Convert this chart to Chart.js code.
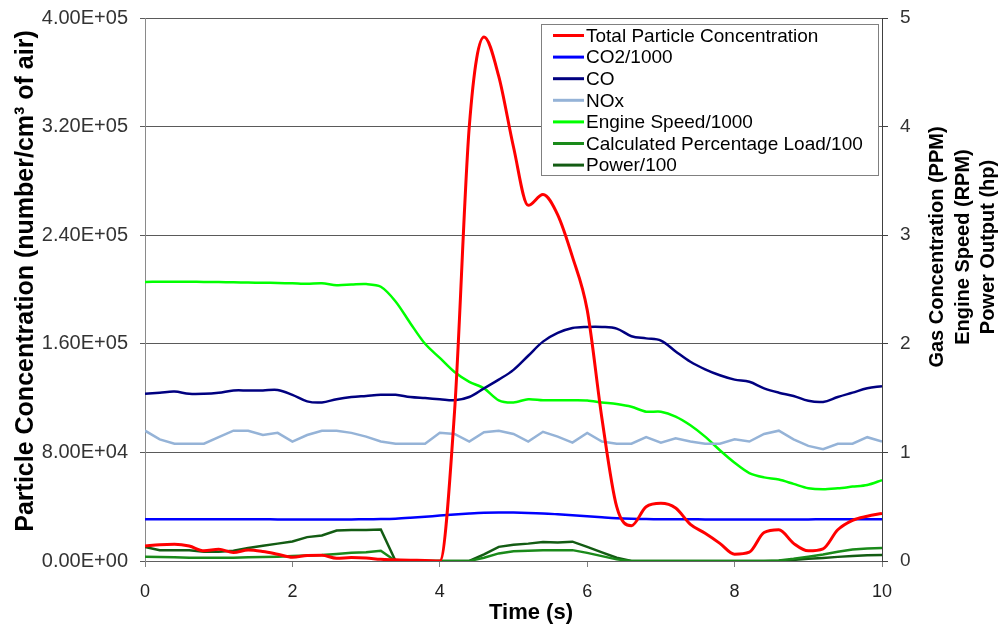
<!DOCTYPE html>
<html>
<head>
<meta charset="utf-8">
<script src="https://cdn.jsdelivr.net/npm/chart.js@4/dist/chart.umd.min.js"></script>
<style>
  html, body { margin: 0; padding: 0; background: #ffffff; }
  #wrap { width: 1007px; height: 627px; }
</style>
</head>
<body>
<div id="wrap"><canvas id="c" width="1007" height="627"></canvas></div>
<script>
// Sample times (s), one reading every 0.2 s
const times = [0, 0.2, 0.4, 0.6, 0.8, 1.0, 1.2, 1.4, 1.6, 1.8,
  2.0, 2.2, 2.4, 2.6, 2.8, 3.0, 3.2, 3.4, 3.6, 3.8,
  4.0, 4.2, 4.4, 4.6, 4.8, 5.0, 5.2, 5.4, 5.6, 5.8,
  6.0, 6.2, 6.4, 6.6, 6.8, 7.0, 7.2, 7.4, 7.6, 7.8,
  8.0, 8.2, 8.4, 8.6, 8.8, 9.0, 9.2, 9.4, 9.6, 9.8, 10.0];

// Total particle concentration (number/cm3 of air), left axis
const particles = [11100, 12000, 12300, 11000, 7500, 8600, 6300, 8100, 7000, 5000,
  2800, 4000, 4300, 2000, 2500, 2200, 1200, 900, 600, 400,
  0, 110000, 320000, 386000, 357000, 305000, 262000, 270000, 255000, 224000,
  185000, 105000, 40000, 26000, 40000, 42500, 39000, 27000, 20400, 13000,
  5000, 6500, 21000, 23000, 13000, 7500, 9000, 23000, 30000, 33000, 35000];

// Right axis series
const co2 = [0.385, 0.385, 0.385, 0.385, 0.385, 0.384, 0.384, 0.384, 0.384, 0.383,
  0.383, 0.383, 0.383, 0.383, 0.383, 0.384, 0.386, 0.390, 0.398, 0.408,
  0.418, 0.428, 0.437, 0.444, 0.447, 0.446, 0.443, 0.438, 0.430, 0.421,
  0.411, 0.402, 0.394, 0.389, 0.386, 0.385, 0.384, 0.384, 0.383, 0.383,
  0.383, 0.383, 0.383, 0.383, 0.383, 0.383, 0.384, 0.384, 0.384, 0.384, 0.384];

const co = [1.54, 1.55, 1.56, 1.54, 1.54, 1.55, 1.57, 1.57, 1.57, 1.575,
  1.53, 1.47, 1.46, 1.49, 1.51, 1.52, 1.53, 1.53, 1.51, 1.50,
  1.49, 1.48, 1.51, 1.59, 1.67, 1.76, 1.89, 2.02, 2.10, 2.145,
  2.155, 2.155, 2.14, 2.07, 2.05, 2.03, 1.93, 1.835, 1.765, 1.71,
  1.67, 1.65, 1.59, 1.55, 1.52, 1.475, 1.465, 1.51, 1.55, 1.59, 1.61];

const nox = [1.20, 1.12, 1.08, 1.08, 1.08, 1.14, 1.20, 1.20, 1.16, 1.18,
  1.10, 1.16, 1.20, 1.20, 1.18, 1.145, 1.10, 1.08, 1.08, 1.08,
  1.18, 1.17, 1.10, 1.185, 1.20, 1.17, 1.10, 1.19, 1.145, 1.09,
  1.18, 1.10, 1.08, 1.08, 1.14, 1.09, 1.13, 1.10, 1.08, 1.08,
  1.12, 1.10, 1.17, 1.20, 1.12, 1.06, 1.03, 1.08, 1.08, 1.14, 1.10];

const engineSpeed = [2.57, 2.572, 2.572, 2.572, 2.57, 2.568, 2.566, 2.564, 2.562, 2.56,
  2.557, 2.552, 2.557, 2.54, 2.545, 2.55, 2.525, 2.39, 2.19, 2.00,
  1.87, 1.74, 1.65, 1.59, 1.48, 1.46, 1.49, 1.48, 1.48, 1.48,
  1.478, 1.46, 1.445, 1.42, 1.375, 1.375, 1.33, 1.25, 1.145, 1.02,
  0.905, 0.81, 0.77, 0.75, 0.71, 0.67, 0.66, 0.67, 0.685, 0.70, 0.745];

const load = [0.04, 0.037, 0.035, 0.03, 0.03, 0.03, 0.03, 0.035, 0.037, 0.04,
  0.045, 0.05, 0.055, 0.065, 0.075, 0.08, 0.095, 0, 0, 0,
  0, 0, 0, 0.03, 0.07, 0.09, 0.095, 0.10, 0.10, 0.10,
  0.075, 0.045, 0.015, 0, 0, 0, 0, 0, 0, 0,
  0, 0, 0, 0.005, 0.02, 0.04, 0.06, 0.085, 0.105, 0.115, 0.12];

const power = [0.13, 0.10, 0.10, 0.10, 0.085, 0.085, 0.095, 0.12, 0.14, 0.16,
  0.18, 0.22, 0.235, 0.28, 0.285, 0.285, 0.29, 0, 0, 0,
  0, 0, 0, 0.06, 0.13, 0.15, 0.16, 0.175, 0.17, 0.178,
  0.13, 0.08, 0.03, 0, 0, 0, 0, 0, 0, 0,
  0, 0, 0, 0.003, 0.01, 0.02, 0.028, 0.038, 0.047, 0.052, 0.055];

const seriesNames = ['Total Particle Concentration', 'CO2/1000', 'CO', 'NOx',
  'Engine Speed/1000', 'Calculated Percentage Load/100', 'Power/100'];

const leftTicks = [0, 80000, 160000, 240000, 320000, 400000];

const FONT = '"Liberation Sans", Arial, sans-serif';

function pts(values) {
  return times.map((t, i) => ({ x: t, y: values[i] }));
}

function sciLabel(v) {
  if (v === 0) return '0.00E+00';
  const e = Math.floor(Math.log10(v) + 1e-9);
  const m = v / Math.pow(10, e);
  return m.toFixed(2) + 'E+' + String(e).padStart(2, '0');
}

// Vertical axes keep a fixed width and do not push the plot area down
function fixedVertical(width) {
  return function (s) {
    s.width = width;
    s.paddingTop = 0;
    s.paddingBottom = 0;
  };
}

// Axis titles and the boxed legend
const decorations = {
  id: 'decorations',
  afterDatasetsDraw(chart) {
    const ctx = chart.ctx;
    ctx.save();
    ctx.fillStyle = '#000000';
    ctx.textAlign = 'center';
    ctx.textBaseline = 'middle';

    ctx.font = 'bold 25px ' + FONT;
    ctx.save();
    ctx.translate(26, 281);
    ctx.rotate(-Math.PI / 2);
    ctx.fillText('Particle Concentration (number/cm\u00B3 of air)', 0, 0);
    ctx.restore();

    ctx.font = 'bold 20px ' + FONT;
    const rightLines = ['Gas Concentration (PPM)', 'Engine Speed (RPM)', 'Power Output (hp)'];
    const rx = [937, 963, 988];
    rightLines.forEach((s, i) => {
      ctx.save();
      ctx.translate(rx[i], 247);
      ctx.rotate(-Math.PI / 2);
      ctx.fillText(s, 0, 0);
      ctx.restore();
    });

    ctx.font = 'bold 22px ' + FONT;
    ctx.fillText('Time (s)', 531, 613);

    // legend
    const bx = 541.5, by = 24.5, bw = 337, bh = 151;
    ctx.fillStyle = '#ffffff';
    ctx.fillRect(bx, by, bw, bh);
    ctx.strokeStyle = '#808080';
    ctx.lineWidth = 1;
    ctx.strokeRect(bx, by, bw, bh);
    ctx.font = '19px ' + FONT;
    ctx.textAlign = 'left';
    chart.data.datasets.forEach((ds, i) => {
      const y = 35.5 + i * 21.6;
      ctx.strokeStyle = ds.borderColor;
      ctx.lineWidth = 3;
      ctx.beginPath();
      ctx.moveTo(553, y);
      ctx.lineTo(584, y);
      ctx.stroke();
      ctx.fillStyle = '#000000';
      ctx.fillText(ds.label, 586, y + 1);
    });
    ctx.restore();
  }
};

const common = { pointRadius: 0, pointHoverRadius: 0, fill: false };

new Chart(document.getElementById('c'), {
  type: 'line',
  data: {
    datasets: [
      { ...common, label: seriesNames[0], data: pts(particles), yAxisID: 'y',
        borderColor: '#ff0000', borderWidth: 3, cubicInterpolationMode: 'monotone' },
      { ...common, label: seriesNames[1], data: pts(co2), yAxisID: 'y2',
        borderColor: '#0000ff', borderWidth: 2.5, tension: 0.35 },
      { ...common, label: seriesNames[2], data: pts(co), yAxisID: 'y2',
        borderColor: '#000080', borderWidth: 2.5, tension: 0.35 },
      { ...common, label: seriesNames[3], data: pts(nox), yAxisID: 'y2',
        borderColor: '#95b3d7', borderWidth: 2.5, tension: 0 },
      { ...common, label: seriesNames[4], data: pts(engineSpeed), yAxisID: 'y2',
        borderColor: '#00ff00', borderWidth: 2.5, tension: 0.3 },
      { ...common, label: seriesNames[5], data: pts(load), yAxisID: 'y2',
        borderColor: '#1a8a1a', borderWidth: 2.5, tension: 0 },
      { ...common, label: seriesNames[6], data: pts(power), yAxisID: 'y2',
        borderColor: '#135c13', borderWidth: 2.5, tension: 0 }
    ]
  },
  options: {
    responsive: false,
    animation: false,
    events: [],
    layout: { padding: { top: 18, left: 0, right: 0, bottom: 0 } },
    plugins: { legend: { display: false }, tooltip: { enabled: false } },
    scales: {
      x: {
        type: 'linear', min: 0, max: 10,
        afterFit(s) { s.height = 66; s.paddingLeft = 0; s.paddingRight = 0; },
        ticks: { stepSize: 2, color: '#222222', font: { size: 18, family: FONT }, padding: 14, maxRotation: 0 },
        grid: { drawOnChartArea: false, drawTicks: true, tickLength: 6, color: '#808080' },
        border: { display: true, color: '#606060', width: 1 }
      },
      y: {
        type: 'linear', position: 'left', min: 0, max: 400000,
        afterFit: fixedVertical(145),
        afterBuildTicks(s) { s.ticks = leftTicks.map(v => ({ value: v })); },
        ticks: { color: '#333333', font: { size: 20, family: FONT }, padding: 12,
          callback: v => sciLabel(v) },
        grid: { drawOnChartArea: true, drawTicks: true, tickLength: 5, color: '#5a5a5a', lineWidth: 1 },
        border: { display: true, color: '#8a8a8a', width: 1 }
      },
      y2: {
        type: 'linear', position: 'right', min: 0, max: 5,
        afterFit: fixedVertical(125),
        ticks: { stepSize: 1, color: '#333333', font: { size: 19, family: FONT }, padding: 12 },
        grid: { drawOnChartArea: false, drawTicks: true, tickLength: 6, color: '#404040' },
        border: { display: true, color: '#404040', width: 1 }
      }
    }
  },
  plugins: [decorations]
});
</script>
</body>
</html>
